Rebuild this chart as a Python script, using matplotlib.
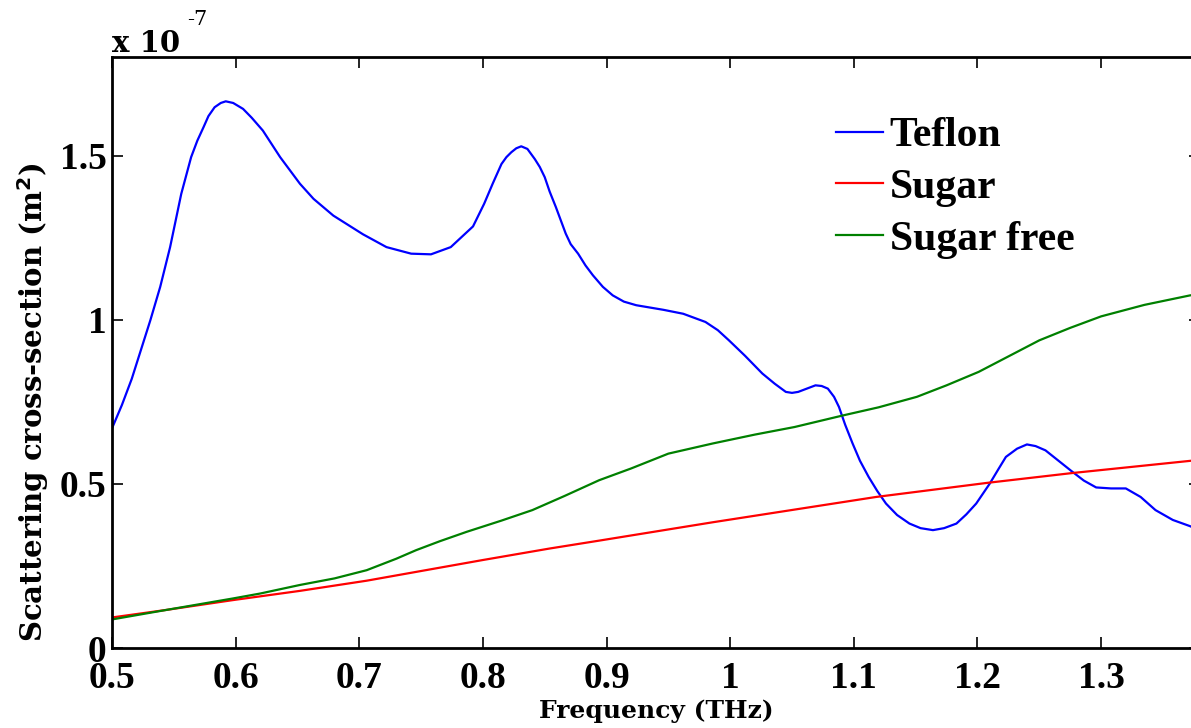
import numpy as np
import matplotlib
matplotlib.use("Agg")
import matplotlib.pyplot as plt
from matplotlib.ticker import FuncFormatter
from matplotlib.font_manager import FontProperties

# values, y in units of 1e-7 m^2
teflon_f = [0.500, 0.508, 0.516, 0.531, 0.539, 0.547, 0.556, 0.564, 0.569, 0.574,
            0.578, 0.583, 0.588, 0.592, 0.598, 0.606, 0.613, 0.622, 0.636, 0.652,
            0.663, 0.679, 0.703, 0.722, 0.742, 0.758, 0.774, 0.792, 0.801, 0.808,
            0.815, 0.819, 0.823, 0.827, 0.831, 0.836, 0.842, 0.846, 0.850, 0.854,
            0.859, 0.867, 0.871, 0.877, 0.883, 0.889, 0.897, 0.905, 0.914, 0.924,
            0.946, 0.962, 0.980, 0.990, 0.999, 1.012, 1.026, 1.036, 1.045, 1.050,
            1.055, 1.062, 1.069, 1.074, 1.079, 1.084, 1.088, 1.093, 1.099, 1.105,
            1.112, 1.119, 1.126, 1.135, 1.145, 1.154, 1.164, 1.173, 1.183, 1.191,
            1.199, 1.210, 1.217, 1.223, 1.232, 1.240, 1.247, 1.255, 1.265, 1.276,
            1.286, 1.296, 1.308, 1.320, 1.332, 1.344, 1.358, 1.372, 1.380]
teflon_s = [0.669, 0.740, 0.820, 0.998, 1.100, 1.221, 1.383, 1.495, 1.545, 1.586,
            1.620, 1.647, 1.660, 1.665, 1.660, 1.642, 1.615, 1.576, 1.495, 1.414,
            1.368, 1.317, 1.260, 1.221, 1.201, 1.199, 1.221, 1.284, 1.353, 1.415,
            1.474, 1.495, 1.510, 1.522, 1.528, 1.520, 1.489, 1.465, 1.434, 1.390,
            1.343, 1.262, 1.230, 1.201, 1.165, 1.135, 1.100, 1.074, 1.055, 1.044,
            1.030, 1.018, 0.993, 0.968, 0.937, 0.890, 0.836, 0.805, 0.780, 0.777,
            0.780, 0.790, 0.800, 0.798, 0.790, 0.765, 0.734, 0.680, 0.623, 0.570,
            0.521, 0.478, 0.440, 0.405, 0.379, 0.365, 0.359, 0.365, 0.379, 0.407,
            0.440, 0.501, 0.545, 0.582, 0.607, 0.620, 0.615, 0.602, 0.572, 0.539,
            0.510, 0.489, 0.486, 0.486, 0.460, 0.420, 0.390, 0.371, 0.357]

sugar_f = [0.500, 0.544, 0.598, 0.652, 0.706, 0.800, 0.854, 0.894, 0.986, 1.118,
           1.208, 1.277, 1.372, 1.380]
sugar_s = [0.093, 0.116, 0.146, 0.174, 0.205, 0.268, 0.303, 0.327, 0.383, 0.460,
           0.503, 0.533, 0.570, 0.573]

free_f = [0.500, 0.544, 0.598, 0.620, 0.652, 0.680, 0.706, 0.730, 0.746, 0.765,
          0.787, 0.815, 0.840, 0.866, 0.894, 0.920, 0.950, 0.986, 1.020, 1.052,
          1.092, 1.120, 1.151, 1.175, 1.201, 1.225, 1.250, 1.275, 1.300, 1.335,
          1.372, 1.380]
free_s = [0.087, 0.116, 0.151, 0.166, 0.192, 0.212, 0.237, 0.272, 0.298, 0.325,
          0.354, 0.388, 0.420, 0.463, 0.511, 0.547, 0.592, 0.623, 0.650, 0.673,
          0.709, 0.733, 0.765, 0.800, 0.841, 0.888, 0.937, 0.975, 1.010, 1.045,
          1.074, 1.078]

labels = ['Teflon', 'Sugar', 'Sugar free']
colors = ['#0000ff', '#ff0000', '#008000']

xticks = [0.5, 0.6, 0.7, 0.8, 0.9, 1.0, 1.1, 1.2, 1.3]
yticks = [0, 0.5e-7, 1e-7, 1.5e-7]

W, H = 1191, 728


def main():
    fig = plt.figure(figsize=(W / 100, H / 100), dpi=100)
    ax = fig.add_axes([112 / W, 80 / H, 1088 / W, 591 / H])

    scale = 1e-7
    ax.plot(teflon_f, np.array(teflon_s) * scale, color=colors[0], lw=1.6, label=labels[0])
    ax.plot(sugar_f, np.array(sugar_s) * scale, color=colors[1], lw=1.6, label=labels[1])
    ax.plot(free_f, np.array(free_s) * scale, color=colors[2], lw=1.6, label=labels[2])

    ax.set_xticks(xticks)
    ax.set_yticks(yticks)
    ax.set_xlim(0.5, 1.38)
    ax.set_ylim(0, 1.8e-7)
    ax.xaxis.set_major_formatter(FuncFormatter(lambda v, p: '%g' % round(v, 2)))
    ax.yaxis.set_major_formatter(FuncFormatter(lambda v, p: '%g' % round(v / scale, 2)))

    tick_font = FontProperties(family='Liberation Serif', weight='bold', size=27)
    ax.tick_params(direction='in', length=8, width=1.2, top=True, right=True)
    ax.tick_params(axis='x', pad=9)
    ax.tick_params(axis='y', pad=4)
    for t in ax.get_xticklabels() + ax.get_yticklabels():
        t.set_fontproperties(tick_font)
    for s in ax.spines.values():
        s.set_linewidth(2)

    ax.set_xlabel('Frequency (THz)', family='DejaVu Serif', weight='bold', size=18)
    ax.xaxis.set_label_coords(0.5, -0.086)
    ax.set_ylabel('Scattering cross-section (m$^\\mathbf{2}$)', family='DejaVu Serif',
                  weight='bold', size=21)
    ax.yaxis.set_label_coords(-0.056, 0.415)

    fig.text(112 / W, 1 - 52 / H, 'x 10', family='DejaVu Serif', weight='bold',
             size=21, ha='left', va='baseline')
    fig.text(187 / W, 1 - 25 / H, '-7', family='DejaVu Serif', size=15,
             ha='left', va='baseline')

    ax.legend(loc='upper left', bbox_to_anchor=(836 / W, 1 - 117 / H),
              bbox_transform=fig.transFigure, frameon=False, borderpad=0,
              borderaxespad=0, handlelength=1.12, handletextpad=0.17,
              labelspacing=0.33,
              prop={'family': 'Liberation Serif', 'weight': 'bold', 'size': 30})

    fig.savefig('out.png', dpi=100)


if __name__ == '__main__':
    main()
